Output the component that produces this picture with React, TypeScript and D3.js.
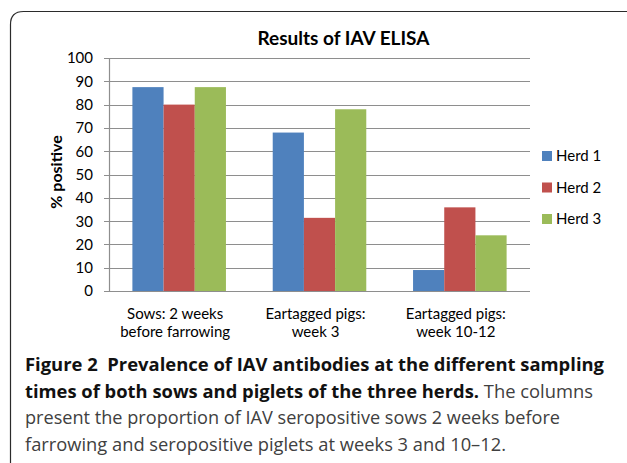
import React, { useEffect, useRef } from "react"
import * as d3 from "d3"

// chart data
const categories = ["Sows: 2 weeks|before farrowing", "Eartagged pigs:|week 3", "Eartagged pigs:|week 10-12"]
const herds = ["Herd 1", "Herd 2", "Herd 3"]
const herd1 = [87.5, 68, 9]
const herd2 = [80, 31.4, 35.9]
const herd3 = [87.5, 78, 23.9]
const yTicks = [0, 10, 20, 30, 40, 50, 60, 70, 80, 90, 100]
const colors = ["#4F81BD", "#C0504D", "#9BBB59"]

const title = "Results of IAV ELISA"
const yLabel = "% positive"
const captionLines = [
  [{ t: "Figure 2  Prevalence of IAV antibodies at the different sampling", b: true }],
  [{ t: "times of both sows and piglets of the three herds.", b: true }, { t: " The columns", b: false }],
  [{ t: "present the proportion of IAV seropositive sows 2 weeks before", b: false }],
  [{ t: "farrowing and seropositive piglets at weeks 3 and 10\u201312.", b: false }],
]
const captionWidths = [[579], [454, 114], [535], [481]]

const W = 627
const H = 463
const chartFont = "Lato, 'Liberation Sans', sans-serif"

const App = () => {
  const ref = useRef<SVGSVGElement>(null)

  useEffect(() => {
    const svg = d3.select(ref.current)
    svg.selectAll("*").remove()

    const series = [herd1, herd2, herd3]
    const plot = { left: 109, right: 530, top: 58, bottom: 291 }

    const x0 = d3.scaleBand().domain(categories).range([plot.left, plot.right]).padding(0)
    const x1 = d3
      .scaleBand()
      .domain(herds)
      .range([0, x0.bandwidth()])
      .paddingInner(0)
      .paddingOuter(0.75)
    const y = d3.scaleLinear().domain([0, 100]).range([plot.bottom, plot.top])

    // figure frame (rounded top-left corner)
    const r = 13
    svg
      .append("path")
      .attr("d", `M10.5,${H} L10.5,${11.5 + r} Q10.5,11.5 ${10.5 + r},11.5 L${W},11.5`)
      .attr("fill", "none")
      .attr("stroke", "#2b2b2b")
      .attr("stroke-width", 1.2)

    // title
    svg
      .append("text")
      .attr("x", 343.5)
      .attr("y", 45)
      .attr("text-anchor", "middle")
      .attr("font-family", chartFont)
      .attr("font-weight", "bold")
      .attr("font-size", 19)
      .attr("fill", "#000")
      .text(title)

    // gridlines + tick stubs
    svg
      .append("g")
      .selectAll("line")
      .data(yTicks)
      .enter()
      .append("line")
      .attr("x1", plot.left - 5)
      .attr("x2", plot.right)
      .attr("y1", (d) => Math.round(y(d)) + 0.5)
      .attr("y2", (d) => Math.round(y(d)) + 0.5)
      .attr("stroke", "#8e8e8e")
      .attr("stroke-width", 1.2)

    svg
      .append("line")
      .attr("x1", plot.left + 0.5)
      .attr("x2", plot.left + 0.5)
      .attr("y1", plot.top)
      .attr("y2", plot.bottom)
      .attr("stroke", "#8e8e8e")
      .attr("stroke-width", 1.2)

    // y tick labels
    svg
      .append("g")
      .selectAll("text")
      .data(yTicks)
      .enter()
      .append("text")
      .attr("x", 93)
      .attr("y", (d) => y(d))
      .attr("dy", "0.36em")
      .attr("text-anchor", "end")
      .attr("font-family", chartFont)
      .attr("font-size", 15)
      .attr("fill", "#000")
      .text((d) => d)

    // bars
    series.forEach((vals, si) => {
      svg
        .append("g")
        .selectAll("rect")
        .data(vals)
        .enter()
        .append("rect")
        .attr("x", (d, i) => x0(categories[i])! + x1(herds[si])!)
        .attr("y", (d) => y(d))
        .attr("width", x1.bandwidth())
        .attr("height", (d) => y(0) - y(d))
        .attr("fill", colors[si])
    })

    // x category labels (two lines each)
    const xl = svg
      .append("g")
      .selectAll("text")
      .data(categories)
      .enter()
      .append("text")
      .attr("text-anchor", "middle")
      .attr("font-family", chartFont)
      .attr("font-size", 15)
      .attr("fill", "#000")
    xl.each(function (d) {
      const cx = x0(d)! + x0.bandwidth() / 2 - 4
      d.split("|").forEach((line, k) => {
        d3.select(this)
          .append("tspan")
          .attr("x", cx)
          .attr("y", 319 + k * 17.5)
          .text(line)
      })
    })

    // y axis title
    svg
      .append("text")
      .attr("transform", "translate(62,172) rotate(-90)")
      .attr("text-anchor", "middle")
      .attr("font-family", chartFont)
      .attr("font-weight", "bold")
      .attr("font-size", 16)
      .attr("fill", "#000")
      .text(yLabel)

    // legend
    const lg = svg
      .append("g")
      .selectAll("g")
      .data(herds)
      .enter()
      .append("g")
      .attr("transform", (d, i) => `translate(542,${156 + i * 31.5})`)
    lg.append("rect")
      .attr("x", 0)
      .attr("y", -5)
      .attr("width", 10)
      .attr("height", 10)
      .attr("fill", (d, i) => colors[i])
    lg.append("text")
      .attr("x", 14)
      .attr("dy", "0.36em")
      .attr("font-family", chartFont)
      .attr("font-size", 15)
      .attr("fill", "#000")
      .text((d) => d)

    // caption
    const cap = svg
      .append("g")
      .selectAll("text")
      .data(captionLines)
      .enter()
      .append("text")
      .attr("x", 25)
      .attr("y", (d, i) => 371 + i * 26.5)
      .attr("font-family", "'Open Sans', Lato, sans-serif")
      .attr("font-size", 18.5)
      .attr("xml:space", "preserve")
    cap.each(function (parts, li) {
      parts.forEach((p, pi) => {
        d3.select(this)
          .append("tspan")
          .attr("font-weight", p.b ? "bold" : "normal")
          .attr("fill", p.b ? "#111" : "#404040")
          .attr("textLength", captionWidths[li][pi])
          .attr("lengthAdjust", "spacingAndGlyphs")
          .text(p.t)
      })
    })
  }, [])

  return (
    <svg
      ref={ref}
      width={W}
      height={H}
      style={{ position: "absolute", left: 0, top: 0, background: "#fff" }}
    />
  )
}

export default App
